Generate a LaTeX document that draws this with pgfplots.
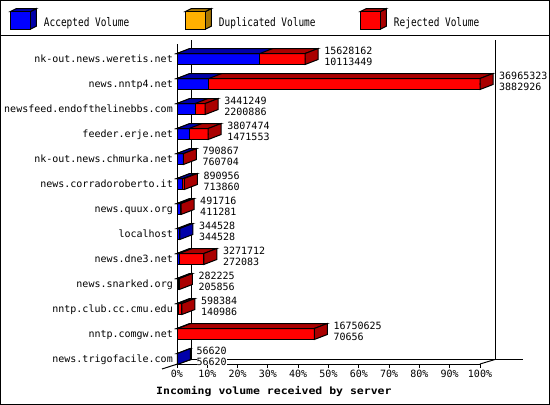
\documentclass[border=0pt]{standalone}
\usepackage{fontspec}
\usepackage{pgfplots}
\usepackage{pgfplotstable}
\pgfplotsset{compat=1.18}

\newfontfamily\pixfont{DejaVu Sans Mono}
\newfontfamily\legfont[FakeStretch=0.8]{DejaVu Sans Mono}
\newfontfamily\titlefont[FakeStretch=1.15]{DejaVu Sans Mono}
\newcommand\valfont{\pixfont\fontsize{10bp}{12bp}\selectfont}
\newcommand\legtext[1]{\raisebox{4.6bp}{\makebox[141bp][l]{\legfont\fontsize{11.8bp}{13bp}\selectfont #1}}}

\definecolor{accfront}{HTML}{0000FF}
\definecolor{accdark}{HTML}{0000AA}
\definecolor{dupfront}{HTML}{FFB000}
\definecolor{dupdark}{HTML}{AA7700}
\definecolor{rejfront}{HTML}{FF0000}
\definecolor{rejdark}{HTML}{AA0000}

% volumes per server, bottom row first: total and accepted
\pgfplotstableread{
y host tot acc
0 news.trigofacile.com 56620 56620
1 nntp.comgw.net 16750625 70656
2 nntp.club.cc.cmu.edu 598384 140986
3 news.snarked.org 282225 205856
4 news.dne3.net 3271712 272083
5 localhost 344528 344528
6 news.quux.org 491716 411281
7 news.corradoroberto.it 890956 713860
8 nk-out.news.chmurka.net 790867 760704
9 feeder.erje.net 3807474 1471553
10 newsfeed.endofthelinebbs.com 3441249 2200886
11 news.nntp4.net 36965323 3882926
12 nk-out.news.weretis.net 15628162 10113449
}\traffic

% 3d faces of a bar, drawn at the end of a segment
\newcommand\topface[1]{%
  \pgfmathsetmacro\L{\pgfplotspointmetatransformed*0.303}%
  \filldraw[fill=#1,draw=black,line width=1bp]
    (-\L bp,5.5bp) -- (0bp,5.5bp) -- (13bp,10.5bp) -- ({13bp-\L bp},10.5bp) -- cycle;}
\newcommand\sideface[1]{%
  \filldraw[fill=#1,draw=black,line width=1bp]
    (0bp,-5.5bp) -- (0bp,5.5bp) -- (13bp,10.5bp) -- (13bp,-0.5bp) -- cycle;}
\newcommand\legcube[2]{%
  \filldraw[fill=#2,draw=black,line width=1bp]
    (20bp,-4.3bp) -- (26bp,-1.3bp) -- (26bp,16.3bp) -- (20bp,13.3bp) -- cycle;
  \filldraw[fill=#2,draw=black,line width=1bp]
    (0bp,13.3bp) -- (6bp,16.3bp) -- (26bp,16.3bp) -- (20bp,13.3bp) -- cycle;
  \filldraw[fill=#1,draw=black,line width=1bp] (0bp,-4.3bp) rectangle (20bp,13.3bp);}

\pgfplotsset{
  marks/.style={only marks, scatter, mark=*, mark size=0.01pt, forget plot,
    scatter/@pre marker code/.code={#1},
    scatter/@post marker code/.code={}},
  faces/.style={marks={#1}, point meta min=0, point meta max=36965323},
  front/.style={xbar, bar width=11bp, bar shift=0pt, draw=black,
    line width=1bp, forget plot},
}

\begin{document}
\begin{tikzpicture}
\useasboundingbox (0,0) rectangle (550bp,-405bp);
\begin{scope}[x=1bp,y=-1bp,line width=1bp]
  \draw (0.5,0.5) rectangle (549.5,404.5);
  \draw (0,35.5) -- (550,35.5);
  \draw (191.5,40) -- (191.5,359.5) -- (523,359.5);
  \draw (495,40) -- (495,359.5);
  \draw (162,369) -- (191.5,359.5);
  \draw (480,364) -- (495,359.5);
\end{scope}
\begin{axis}[
  at={(177bp,-364bp)}, anchor=south west,
  scale only axis, width=303bp, height=320bp,
  xmin=0, xmax=100, ymin=-0.2, ymax=12.6,
  axis x line*=bottom, axis y line*=left,
  axis line style={line width=1bp},
  clip=false,
  tick align=outside,
  major tick length=4bp,
  tick style={line width=1bp, black},
  ytick style={draw=none},
  xtick={0,10,...,100},
  xticklabels={0\%,10\%,20\%,30\%,40\%,50\%,60\%,70\%,80\%,90\%,100\%},
  ytick={0,...,12},
  yticklabels from table={\traffic}{host},
  ticklabel style={font=\valfont, inner sep=0pt},
  xticklabel style={yshift=-2bp},
  yticklabel style={anchor=base east, xshift=0bp, yshift=-3.7bp},
  xlabel={Incoming volume received by server},
  xlabel style={at={(axis description cs:-0.0693,-0.0953)}, anchor=base west,
    inner sep=0pt, font={\titlefont\bfseries\fontsize{10bp}{12bp}\selectfont}},
  legend columns=3,
  legend cell align=left,
  legend style={at={(axis description cs:-0.5512,1.1125)}, anchor=north west,
    draw=none, fill=none, inner sep=0pt, outer sep=0pt,
    column sep=0pt, row sep=0pt, nodes={inner sep=0pt},
    /tikz/every odd column/.append style={column sep=7bp}},
]
% rejected part (total length), skipped where nothing was rejected
\addplot[front, fill=rejfront,
  skip coords between index={0}{1}, skip coords between index={5}{6}]
  table[x expr=\thisrow{tot}/369653.23, y=y] {\traffic};
\addplot[faces={\topface{rejdark}\sideface{rejdark}}, point meta=\thisrow{tot},
  skip coords between index={0}{1}, skip coords between index={5}{6}]
  table[x expr=\thisrow{tot}/369653.23, y=y] {\traffic};
% accepted part
\addplot[front, fill=accfront]
  table[x expr=\thisrow{acc}/369653.23, y=y] {\traffic};
\addplot[faces={\topface{accdark}}, point meta=\thisrow{acc}]
  table[x expr=\thisrow{acc}/369653.23, y=y] {\traffic};
\addplot[faces={\sideface{accdark}}, point meta=\thisrow{acc},
  skip coords between index={1}{5}, skip coords between index={6}{13}]
  table[x expr=\thisrow{acc}/369653.23, y=y] {\traffic};
% values at the end of each bar: total above, accepted below
\addplot[marks={\node[anchor=base west,inner sep=0pt,fill=white,font=\valfont]
    at (19bp,5bp) {\pgfplotspointmeta};}, point meta=explicit symbolic]
  table[x expr=\thisrow{tot}/369653.23, y=y, meta=tot] {\traffic};
\addplot[marks={\node[anchor=base west,inner sep=0pt,fill=white,font=\valfont]
    at (19bp,-6bp) {\pgfplotspointmeta};}, point meta=explicit symbolic]
  table[x expr=\thisrow{tot}/369653.23, y=y, meta=acc] {\traffic};

\addlegendimage{legend image code/.code={\legcube{accfront}{accdark}}}
\addlegendentry{\legtext{Accepted Volume}}
\addlegendimage{legend image code/.code={\legcube{dupfront}{dupdark}}}
\addlegendentry{\legtext{Duplicated Volume}}
\addlegendimage{legend image code/.code={\legcube{rejfront}{rejdark}}}
\addlegendentry{\legtext{Rejected Volume}}
\end{axis}
\end{tikzpicture}
\end{document}
